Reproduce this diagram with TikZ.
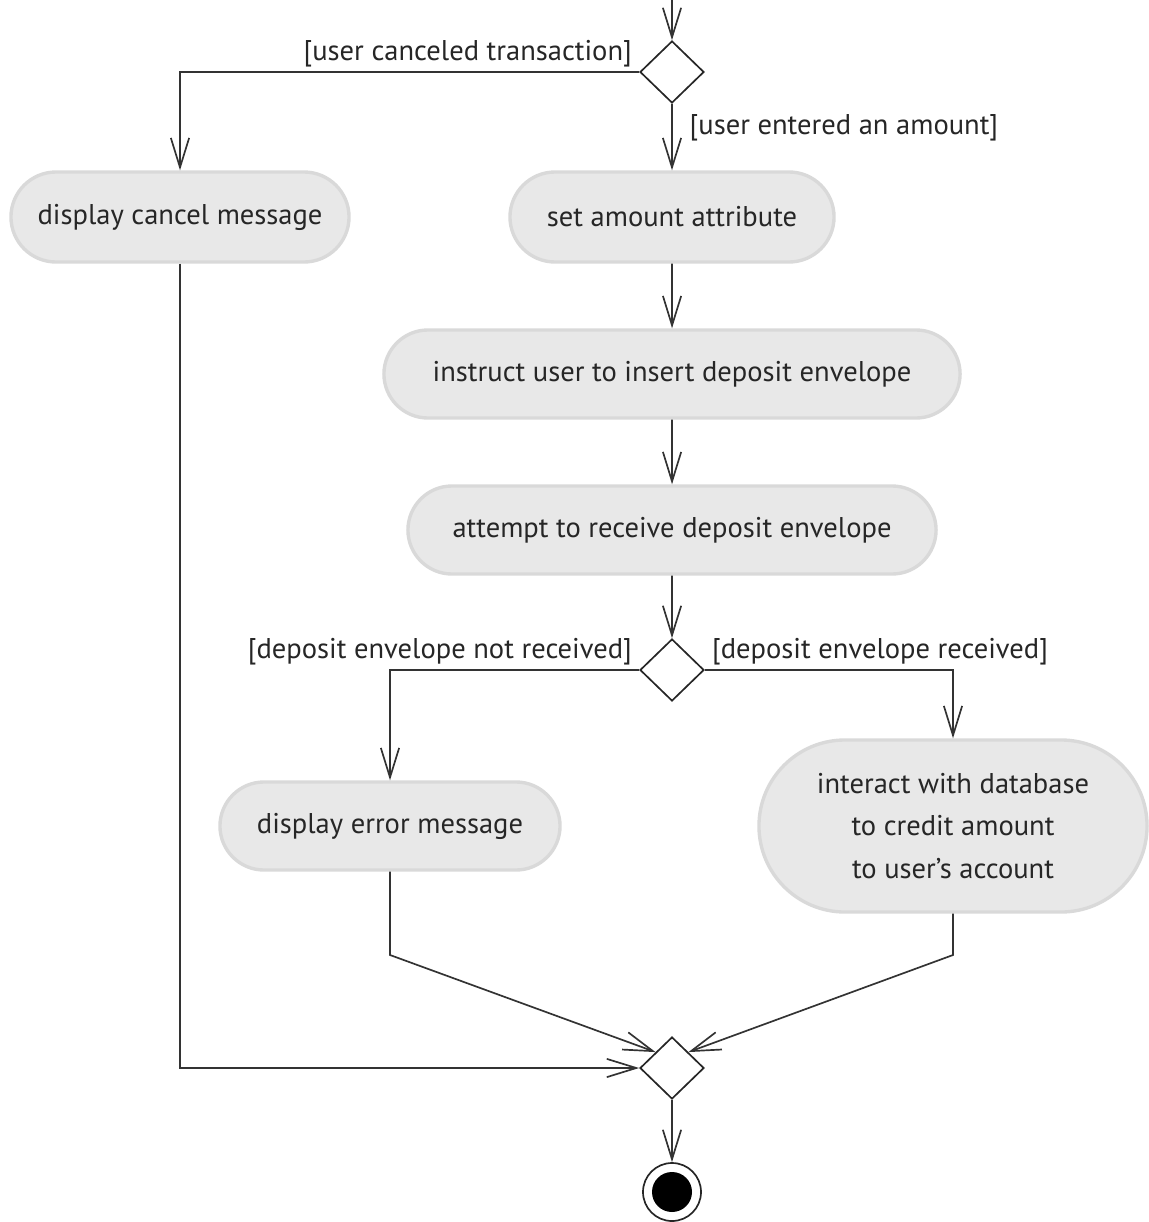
\documentclass[tikz,border=0pt]{standalone}
\usepackage{fontspec}
\setmainfont{PT Sans}
\usetikzlibrary{positioning,arrows.meta,shapes.geometric,shapes.misc}

\begin{document}
\begin{tikzpicture}[x=0.025cm, y=-0.025cm, font=\fontsize{20.3}{30}\selectfont,
  action/.style={rounded rectangle, draw=gray!30, line width=2.4pt, fill=gray!18,
    text=black!85, inner sep=0pt, align=center},
  decision/.style={diamond, draw=black!85, line width=1.2pt, fill=white,
    minimum width=1.6cm, minimum height=1.55cm, inner sep=0pt},
  flow/.style={draw=black!80, line width=1.2pt, -{Straight Barb[length=21pt,width=13pt]}},
  guard/.style={text=black!85, inner sep=1pt}]
  \useasboundingbox (0,0) rectangle (1149,1222);

  % actions
  \node[action, minimum width=8.45cm, minimum height=2.25cm] (cancel) at (180,217) {display cancel message};
  \node[action, minimum width=8.1cm, minimum height=2.25cm] (amount) at (672,217) {set amount attribute};
  \node[action, minimum width=14.4cm, minimum height=2.2cm] (instruct) at (672,374) {instruct user to insert deposit envelope};
  \node[action, minimum width=13.2cm, minimum height=2.2cm] (attempt) at (672,530) {attempt to receive deposit envelope};
  \node[action, minimum width=8.5cm, minimum height=2.2cm] (error) at (390,826) {display error message};
  \node[action, minimum width=9.7cm, minimum height=4.3cm] (interact) at (953,826)
    {interact with database\\to credit amount\\to user's account};

  % decisions and final state
  \node[decision] (d1) at (672,72) {};
  \node[decision] (d2) at (672,670) {};
  \node[decision] (d3) at (672,1068) {};
  \node[circle, draw=black!85, line width=1.2pt, minimum size=1.45cm, inner sep=0pt,
    path picture={\fill[black] (path picture bounding box.center) circle (0.5cm);}] (final) at (672,1192) {};

  % guards
  \node[guard, anchor=south east] (gcancel) at ([xshift=-4pt,yshift=2pt]d1.west) {[user canceled transaction]};
  \node[guard, anchor=west] (gamount) at (688,128) {[user entered an amount]};
  \node[guard, anchor=south east] (gnot) at ([xshift=-4pt,yshift=2pt]d2.west) {[deposit envelope not received]};
  \node[guard, anchor=south west] (grec) at ([xshift=4pt,yshift=2pt]d2.east) {[deposit envelope received]};

  \coordinate (start) at (672,0);
  \coordinate (errbend) at (390,955);
  \coordinate (intbend) at (953,955);

  % connectors
  \draw[flow] (start) -- (d1.north);
  \draw[flow] (d1.west) -| (cancel.north);
  \draw[flow] (d1.south) -- (amount.north);
  \draw[flow] (amount) -- (instruct);
  \draw[flow] (instruct) -- (attempt);
  \draw[flow] (attempt) -- (d2.north);
  \draw[flow] (d2.west) -| (error.north);
  \draw[flow] (d2.east) -| (interact.north);
  \draw[flow] (error.south) -- (errbend) -- (d3.north west);
  \draw[flow] (interact.south) -- (intbend) -- (d3.north east);
  \draw[flow] (cancel.south) |- (d3.west);
  \draw[flow] (d3.south) -- (final.north);
\end{tikzpicture}
\end{document}
